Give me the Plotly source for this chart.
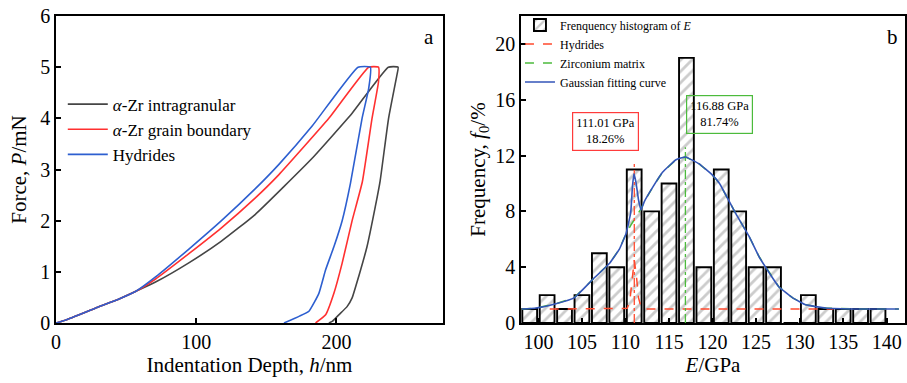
import plotly.graph_objects as go

# ---------------- Panel a: load-displacement curves ----------------
intra_depth = [0, 7, 28, 45, 57, 71, 95, 118, 142, 182.7, 211.2, 237, 244, 243.1, 237.2, 231.2, 227.7, 221.8, 215.9, 211.2, 207.6, 201.7, 197, 194.6]
intra_force = [0, 0.06, 0.29, 0.47, 0.62, 0.80, 1.18, 1.60, 2.12, 3.22, 4.10, 5.0, 5.0, 4.84, 4.0, 2.78, 2.27, 1.49, 0.91, 0.49, 0.32, 0.16, 0.03, 0]

gb_depth = [0, 7, 28, 45, 57, 71, 95, 118, 142, 159, 194.6, 223, 230, 230, 225.4, 218.5, 211.2, 204.1, 198.2, 192.3, 185.1]
gb_force = [0, 0.06, 0.29, 0.47, 0.62, 0.86, 1.36, 1.86, 2.44, 2.90, 4.0, 5.0, 5.0, 4.71, 4.0, 2.76, 2.0, 1.17, 0.58, 0.16, 0]

hyd_depth = [0, 7, 28, 45, 57, 71, 95, 118, 142, 159, 182.7, 215.4, 224.2, 223, 218.3, 210, 204.1, 198.2, 192.3, 187.5, 180.4, 173.3, 162.6]
hyd_force = [0, 0.06, 0.29, 0.47, 0.62, 0.90, 1.45, 2.0, 2.62, 3.10, 3.85, 5.0, 5.0, 4.58, 4.0, 2.73, 2.0, 1.49, 1.04, 0.58, 0.23, 0.13, 0]

# ---------------- Panel b: modulus histogram ----------------
bin_centers = [99, 101, 103, 105, 107, 109, 111, 113, 115, 117, 119, 121, 123, 125, 127, 129, 131, 133, 135, 137, 139]
bin_freq = [1, 2, 1, 2, 5, 4, 11, 8, 10, 19, 4, 11, 8, 4, 4, 0, 2, 1, 1, 1, 1]

fit_x = [98.1, 99.7, 102.0, 104.1, 106.2, 108.2, 109.3, 110.06, 110.6, 110.8, 110.97, 111.2, 111.5, 111.78, 112.16, 113.1, 114.25, 115.8, 116.9, 118.46, 119.99, 120.8, 122.7, 124.2, 125.3, 126.5, 127.6, 129.2, 130.7, 133.0, 136.8, 141.4]
fit_y = [1.0, 1.07, 1.38, 1.8, 3.1, 4.3, 5.3, 6.4, 7.9, 9.8, 10.7, 10.1, 8.8, 8.1, 8.7, 9.7, 10.8, 11.7, 11.9, 11.4, 10.6, 10.0, 7.8, 6.2, 4.8, 3.6, 2.6, 1.8, 1.3, 1.07, 1.0, 1.0]

hyd_comp_x = [101.3, 110.2, 110.5, 110.75, 111.01, 111.25, 111.5, 111.8, 112.2, 133.9]
hyd_comp_y = [1.0, 1.05, 1.6, 3.2, 4.5, 3.4, 1.8, 1.1, 1.0, 1.0]

mat_comp_x = [98.1, 99.7, 102.0, 104.1, 106.2, 108.2, 109.3, 110.06, 110.6, 111.0, 111.5, 111.8, 112.16, 113.1, 114.25, 115.8, 116.9, 118.46, 119.99, 120.8, 122.7, 124.2, 125.3, 126.5, 127.6, 129.2, 130.7, 133.0, 136.8, 141.4]
mat_comp_y = [1.0, 1.07, 1.38, 1.8, 3.1, 4.3, 5.3, 6.4, 7.0, 7.4, 7.9, 8.2, 8.7, 9.7, 10.8, 11.7, 11.9, 11.4, 10.6, 10.0, 7.8, 6.2, 4.8, 3.6, 2.6, 1.8, 1.3, 1.07, 1.0, 1.0]

hyd_peak_E = 111.01
hyd_peak_h = 11.5
mat_peak_E = 116.88
mat_peak_h = 12.6

hyd_label = "111.01 GPa<br>18.26%"
mat_label = "116.88 GPa<br>81.74%"

FONT = "Liberation Serif, Times New Roman, serif"
BLACK_C = "#454545"
RED_C = "#ff3030"
BLUE_C = "#2d5fd0"

fig = go.Figure()

for xs, ys, nm, col in [(intra_depth, intra_force, "<i>α</i>-Zr intragranular", BLACK_C),
                        (gb_depth, gb_force, "<i>α</i>-Zr grain boundary", RED_C),
                        (hyd_depth, hyd_force, "Hydrides", BLUE_C)]:
    fig.add_trace(go.Scatter(x=xs, y=ys, mode="lines", name=nm,
                             line=dict(color=col, width=1.6, shape="spline", smoothing=0.4),
                             xaxis="x", yaxis="y", legend="legend"))

fig.add_trace(go.Bar(x=bin_centers, y=bin_freq, width=1.7, name="Frenquency histogram of <i>E</i>",
                     marker=dict(color="white", line=dict(color="black", width=1.9),
                                 pattern=dict(shape="/", fgcolor="#cccccc", bgcolor="white", size=8, solidity=0.35)),
                     xaxis="x2", yaxis="y2", legend="legend2"))
fig.add_trace(go.Scatter(x=hyd_comp_x, y=hyd_comp_y, mode="lines", name="Hydrides",
                         line=dict(color="#ff4a2e", width=1.5, dash="dash"), xaxis="x2", yaxis="y2", legend="legend2"))
fig.add_trace(go.Scatter(x=mat_comp_x, y=mat_comp_y, mode="lines", name="Zirconium matrix",
                         line=dict(color="#4cbb3c", width=1.5, dash="dash"), xaxis="x2", yaxis="y2", legend="legend2"))
fig.add_trace(go.Scatter(x=[hyd_peak_E, hyd_peak_E], y=[0, hyd_peak_h], mode="lines", showlegend=False,
                         line=dict(color="#ff4a2e", width=1.3, dash="dashdot"), xaxis="x2", yaxis="y2"))
fig.add_trace(go.Scatter(x=[mat_peak_E, mat_peak_E], y=[0, mat_peak_h], mode="lines", showlegend=False,
                         line=dict(color="#4cbb3c", width=1.3, dash="dashdot"), xaxis="x2", yaxis="y2"))
fig.add_trace(go.Scatter(x=fit_x, y=fit_y, mode="lines", name="Gaussian fitting curve",
                         line=dict(color="#3355b8", width=1.6, shape="spline", smoothing=0.3),
                         xaxis="x2", yaxis="y2", legend="legend2"))

axis_common = dict(showline=True, linecolor="black", linewidth=1.5, mirror=True, ticks="inside",
                   ticklen=5, tickwidth=1.5, tickcolor="black", showgrid=False, zeroline=False,
                   automargin=False,
                   tickfont=dict(family=FONT, size=20, color="black"),
                   title_font=dict(family=FONT, size=21, color="black"))

fig.update_layout(
    template="none",
    width=907, height=383,
    margin=dict(l=56, r=2, t=16, b=60, autoexpand=False),
    paper_bgcolor="white", plot_bgcolor="white",
    font=dict(family=FONT, color="black"),
    barmode="overlay",
    xaxis=dict(domain=[0, 0.4558], range=[0, 276], dtick=100, title=dict(text="Indentation Depth, <i>h</i>/nm", standoff=6), **axis_common),
    yaxis=dict(domain=[0, 1], range=[0, 6], dtick=1, title=dict(text="Force, <i>P</i>/mN", standoff=8), **axis_common),
    xaxis2=dict(domain=[0.5477, 1], range=[98, 142.1], dtick=5, anchor="y2", title=dict(text="<i>E</i>/GPa", standoff=6), **axis_common),
    yaxis2=dict(domain=[0, 1], range=[0, 22], dtick=4, anchor="x2", title=dict(text="Frequency, <i>f</i><sub>0</sub>/%", standoff=4), **axis_common),
    legend=dict(x=0.008, y=0.77, xanchor="left", yanchor="top", bgcolor="rgba(0,0,0,0)",
                font=dict(family=FONT, size=17, color="black"), itemwidth=40, tracegroupgap=0),
    legend2=dict(x=0.5465, y=1.018, xanchor="left", yanchor="top", bgcolor="rgba(0,0,0,0)",
                 font=dict(family=FONT, size=12, color="black"), itemwidth=30, tracegroupgap=0),
    showlegend=True,
    annotations=[
        dict(text="a", xref="x domain", yref="y domain", x=0.965, y=0.93, xanchor="center", yanchor="middle",
             showarrow=False, font=dict(family=FONT, size=21, color="black")),
        dict(text="b", xref="x2 domain", yref="y2 domain", x=0.968, y=0.93, xanchor="center", yanchor="middle",
             showarrow=False, font=dict(family=FONT, size=21, color="black")),
        dict(text=hyd_label, xref="x2", yref="y2", x=107.76, y=13.75, showarrow=False,
             font=dict(family=FONT, size=12.5, color="black"), bordercolor="#ff3b3b", borderwidth=1.2,
             borderpad=3, bgcolor="white"),
        dict(text=mat_label, xref="x2", yref="y2", x=120.8, y=14.93, showarrow=False,
             font=dict(family=FONT, size=12.5, color="black"), bordercolor="#4cbb3c", borderwidth=1.2,
             borderpad=3, bgcolor="rgba(255,255,255,0)"),
    ],
)

fig.write_html("out.html", config={"displayModeBar": False},
               post_script="document.body.style.margin='0';document.body.style.overflow='hidden';")
